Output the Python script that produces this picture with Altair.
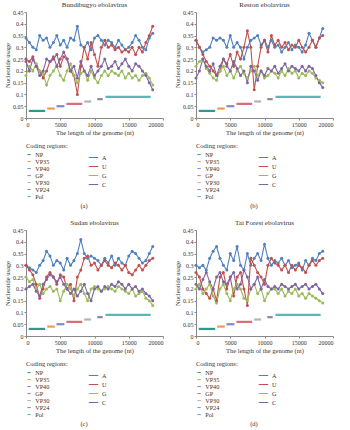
import altair as alt
import pandas as pd

FONT = "Liberation Serif"

positions = [0, 500, 1000, 1500, 2000, 2500, 3000, 3500, 4000, 4500,
             5000, 5500, 6000, 6500, 7000, 7500, 8000, 8500, 9000, 9500,
             10000, 10500, 11000, 11500, 12000, 12500, 13000, 13500, 14000, 14500,
             15000, 15500, 16000, 16500, 17000, 17500, 18000, 18500]

# Bundibugyo ebolavirus
bdbv_A = [0.34,0.32,0.30,0.29,0.35,0.33,0.34,0.30,0.32,0.35,0.31,0.33,0.30,0.34,0.33,0.39,0.31,0.30,0.32,0.29,0.34,0.35,0.33,0.31,0.33,0.32,0.30,0.33,0.31,0.29,0.30,0.32,0.35,0.33,0.30,0.29,0.34,0.36]
bdbv_U = [0.25,0.24,0.26,0.22,0.20,0.17,0.20,0.24,0.25,0.27,0.22,0.26,0.25,0.20,0.18,0.10,0.22,0.30,0.25,0.32,0.27,0.22,0.30,0.33,0.30,0.31,0.29,0.30,0.28,0.29,0.28,0.30,0.27,0.30,0.28,0.32,0.35,0.39]
bdbv_G = [0.18,0.22,0.20,0.23,0.20,0.19,0.14,0.18,0.20,0.22,0.18,0.16,0.20,0.23,0.18,0.15,0.19,0.20,0.16,0.20,0.17,0.15,0.18,0.20,0.18,0.20,0.19,0.18,0.20,0.17,0.19,0.17,0.18,0.16,0.18,0.19,0.17,0.14]
bdbv_C = [0.24,0.20,0.25,0.22,0.18,0.20,0.25,0.24,0.26,0.22,0.25,0.28,0.25,0.20,0.22,0.17,0.24,0.20,0.18,0.22,0.18,0.20,0.22,0.25,0.21,0.22,0.24,0.21,0.23,0.25,0.22,0.20,0.23,0.22,0.20,0.18,0.15,0.12]

# Reston ebolavirus
restv_A = [0.33,0.30,0.28,0.29,0.30,0.34,0.33,0.34,0.33,0.30,0.35,0.30,0.32,0.30,0.25,0.30,0.33,0.34,0.35,0.31,0.33,0.30,0.33,0.30,0.31,0.28,0.30,0.32,0.29,0.31,0.30,0.28,0.31,0.36,0.33,0.30,0.34,0.38]
restv_U = [0.33,0.30,0.27,0.24,0.22,0.20,0.18,0.20,0.25,0.23,0.27,0.22,0.28,0.25,0.30,0.37,0.30,0.12,0.22,0.30,0.33,0.28,0.35,0.31,0.33,0.30,0.32,0.29,0.31,0.30,0.33,0.30,0.28,0.30,0.33,0.30,0.34,0.35]
restv_G = [0.22,0.24,0.25,0.21,0.19,0.17,0.16,0.20,0.22,0.18,0.20,0.17,0.20,0.22,0.19,0.17,0.20,0.22,0.18,0.20,0.17,0.18,0.20,0.19,0.17,0.20,0.18,0.21,0.19,0.20,0.17,0.19,0.18,0.20,0.19,0.17,0.16,0.15]
restv_C = [0.17,0.20,0.25,0.22,0.20,0.23,0.18,0.22,0.25,0.22,0.20,0.24,0.21,0.18,0.20,0.15,0.22,0.20,0.16,0.20,0.18,0.21,0.20,0.22,0.19,0.21,0.23,0.20,0.22,0.21,0.20,0.22,0.20,0.22,0.21,0.18,0.15,0.13]

# Sudan ebolavirus
sudv_A = [0.30,0.29,0.28,0.27,0.30,0.32,0.36,0.34,0.30,0.32,0.31,0.28,0.33,0.30,0.32,0.35,0.41,0.35,0.33,0.34,0.33,0.32,0.30,0.33,0.31,0.34,0.30,0.33,0.31,0.30,0.34,0.36,0.35,0.33,0.31,0.32,0.35,0.38]
sudv_U = [0.30,0.28,0.26,0.22,0.16,0.20,0.25,0.27,0.25,0.22,0.26,0.25,0.20,0.22,0.15,0.25,0.28,0.33,0.34,0.30,0.31,0.28,0.30,0.32,0.30,0.29,0.31,0.30,0.28,0.30,0.27,0.26,0.28,0.30,0.28,0.30,0.32,0.33]
sudv_G = [0.25,0.23,0.24,0.20,0.22,0.18,0.20,0.21,0.19,0.20,0.15,0.19,0.22,0.20,0.17,0.20,0.22,0.18,0.15,0.20,0.21,0.20,0.19,0.20,0.21,0.20,0.19,0.21,0.20,0.19,0.18,0.20,0.17,0.18,0.19,0.16,0.15,0.13]
sudv_C = [0.20,0.21,0.22,0.19,0.17,0.22,0.24,0.26,0.25,0.23,0.25,0.22,0.20,0.18,0.20,0.17,0.19,0.22,0.18,0.15,0.20,0.21,0.19,0.21,0.20,0.22,0.21,0.23,0.22,0.20,0.22,0.20,0.21,0.19,0.20,0.18,0.17,0.15]

# Tai Forest ebolavirus
tafv_A = [0.30,0.29,0.30,0.28,0.33,0.36,0.38,0.33,0.30,0.28,0.35,0.32,0.38,0.30,0.28,0.35,0.30,0.33,0.35,0.32,0.39,0.33,0.30,0.32,0.31,0.33,0.30,0.32,0.29,0.30,0.31,0.28,0.32,0.30,0.33,0.32,0.35,0.36]
tafv_U = [0.27,0.25,0.20,0.18,0.16,0.20,0.15,0.25,0.27,0.20,0.25,0.17,0.25,0.27,0.20,0.13,0.33,0.30,0.27,0.25,0.22,0.30,0.33,0.31,0.30,0.28,0.30,0.27,0.30,0.28,0.30,0.29,0.27,0.30,0.32,0.30,0.32,0.33]
tafv_G = [0.20,0.22,0.18,0.20,0.22,0.17,0.14,0.20,0.22,0.18,0.15,0.20,0.22,0.20,0.16,0.15,0.20,0.22,0.18,0.20,0.15,0.18,0.20,0.20,0.18,0.20,0.17,0.19,0.18,0.20,0.17,0.18,0.16,0.18,0.17,0.16,0.15,0.14]
tafv_C = [0.22,0.20,0.24,0.27,0.23,0.20,0.25,0.27,0.23,0.22,0.25,0.27,0.20,0.22,0.28,0.25,0.20,0.22,0.25,0.20,0.24,0.21,0.20,0.21,0.20,0.22,0.21,0.20,0.21,0.22,0.20,0.21,0.22,0.20,0.21,0.22,0.20,0.18]

# Coding regions
regions = ["NP", "VP35", "VP40", "GP", "VP30", "VP24", "Pol"]
region_start = [400, 3100, 4450, 5900, 8500, 10400, 11600]
region_end = [2800, 4200, 5600, 8200, 9500, 11200, 18200]
region_level = [0.03, 0.04, 0.05, 0.06, 0.07, 0.08, 0.09]
region_colors = ["#2f9a8c", "#f29a45", "#8585cc", "#dc6a78", "#b4b4b4", "#8a8aa0", "#5bb5bb"]

nucleotides = ["A", "U", "G", "C"]
nuc_colors = ["#4f81bd", "#c0504d", "#9bbb59", "#8064a2"]

y_ticks = [0, 0.05, 0.1, 0.15, 0.2, 0.25, 0.3, 0.35, 0.4, 0.45]
x_ticks = [0, 5000, 10000, 15000, 20000]

X_AXIS = alt.Axis(values=x_ticks, format="d", grid=False, title="The length of the genome (nt)")
Y_AXIS = alt.Axis(values=y_ticks, format=".2~f", grid=False, title="Nucleotide usage")
X_SCALE = alt.Scale(domain=[0, 20000], nice=False)
Y_SCALE = alt.Scale(domain=[0, 0.45], nice=False)


def panel(name, A, U, G, C, tag):
    rows = []
    for nuc, vals in zip(nucleotides, [A, U, G, C]):
        for p, v in zip(positions, vals):
            rows.append({"pos": p, "usage": v, "nuc": nuc})
    df = pd.DataFrame(rows)
    reg = pd.DataFrame({"region": regions, "start": region_start,
                        "end": region_end, "level": region_level})

    reg_chart = alt.Chart(reg).mark_rule(strokeWidth=2.2).encode(
        x=alt.X("start:Q", scale=X_SCALE, axis=X_AXIS),
        x2="end:Q",
        y=alt.Y("level:Q", scale=Y_SCALE, axis=Y_AXIS),
        color=alt.Color("region:N", scale=alt.Scale(domain=regions, range=region_colors),
                        legend=alt.Legend(title="Coding regions:", orient="none",
                                          legendX=0, legendY=131,
                                          symbolType="stroke", symbolSize=12,
                                          symbolStrokeWidth=1)),
    )

    line_chart = alt.Chart(df).mark_line(
        strokeWidth=1.1,
        point=alt.OverlayMarkDef(filled=True, size=9),
    ).encode(
        x=alt.X("pos:Q", scale=X_SCALE, axis=X_AXIS),
        y=alt.Y("usage:Q", scale=Y_SCALE, axis=Y_AXIS),
        color=alt.Color("nuc:N", scale=alt.Scale(domain=nucleotides, range=nuc_colors),
                        legend=alt.Legend(title=None, orient="none",
                                          legendX=62, legendY=140,
                                          symbolType="stroke", symbolSize=90,
                                          symbolStrokeWidth=1)),
    )

    layered = alt.layer(reg_chart, line_chart).resolve_scale(color="independent").properties(
        width=137, height=106,
        title=alt.Title(name, fontSize=7, font=FONT, fontWeight="normal", color="#333", offset=1),
    )
    return alt.vconcat(layered, title=alt.Title(tag, orient="bottom", anchor="middle", fontSize=6.5,
                                                 font=FONT, fontWeight="normal", color="#333", offset=3))


pa = panel("Bundibugyo ebolavirus", bdbv_A, bdbv_U, bdbv_G, bdbv_C, "(a)")
pb = panel("Reston ebolavirus", restv_A, restv_U, restv_G, restv_C, "(b)")
pc = panel("Sudan ebolavirus", sudv_A, sudv_U, sudv_G, sudv_C, "(c)")
pd_ = panel("Tai Forest ebolavirus", tafv_A, tafv_U, tafv_G, tafv_C, "(d)")

chart = alt.vconcat(
    alt.hconcat(pa, pb, spacing=10),
    alt.hconcat(pc, pd_, spacing=10),
    spacing=9,
).properties(
    padding={"left": 4, "top": 1, "right": 2, "bottom": 0},
    background="white",
).configure_view(stroke=None).configure_axis(
    labelFont=FONT, titleFont=FONT, labelFontSize=6, titleFontSize=6.5,
    titleFontWeight="normal", labelColor="#333", titleColor="#333",
    domainColor="#888", tickColor="#888", tickSize=2, labelPadding=1, titlePadding=2,
).configure_legend(
    labelFont=FONT, titleFont=FONT, labelFontSize=6.2, titleFontSize=6.5,
    titleFontWeight="normal", labelColor="#333", titleColor="#333",
    rowPadding=0, labelOffset=3, titlePadding=2,
).configure_concat(spacing=6)

chart.save("out.html", embed_options={"renderer": "svg", "actions": False})
